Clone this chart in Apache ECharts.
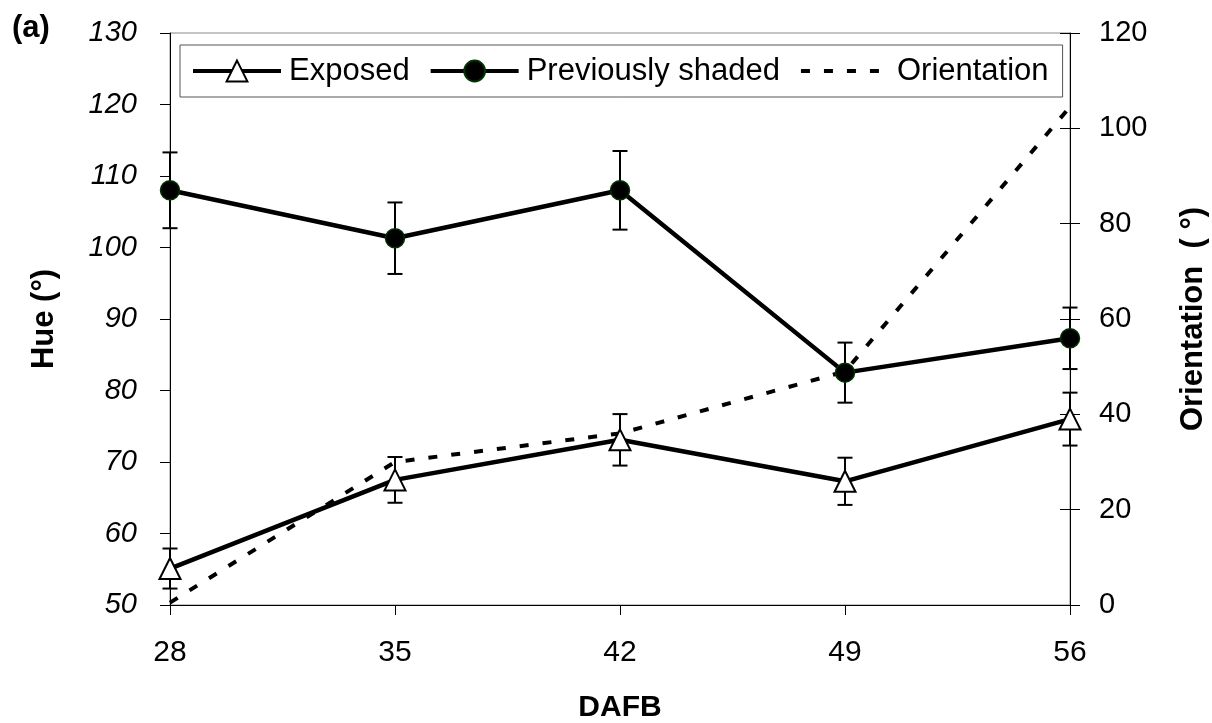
<!DOCTYPE html>
<html>
<head>
<meta charset="utf-8">
<script src="https://cdn.jsdelivr.net/npm/echarts@6/dist/echarts.min.js"></script>
<style>
  html, body { margin: 0; padding: 0; background: #fff; }
  #chart { width: 1212px; height: 723px; }
</style>
</head>
<body>
<div id="chart"></div>
<script>
// ---- data ----
const days = [28, 35, 42, 49, 56];
const exposed = [55.1, 67.5, 73.1, 67.3, 76.0];
const exposedErr = [2.8, 3.2, 3.6, 3.3, 3.7];
const shaded = [108.0, 101.3, 108.0, 82.5, 87.3];
const shadedErr = [5.3, 5.0, 5.5, 4.2, 4.3];
const orientation = [0.5, 30, 36, 49, 104.5];
const hueTicks = { min: 50, max: 130, interval: 10 };
const oriTicks = { min: 0, max: 120, interval: 20 };
const xTicks = { min: 28, max: 56, interval: 7 };

const FONT = '"Liberation Sans", Arial, sans-serif';

function pairs(xs, ys) { return xs.map((x, i) => [x, ys[i]]); }
function errData(xs, ys, es) { return xs.map((x, i) => [x, ys[i] - es[i], ys[i] + es[i]]); }

function errRender(params, api) {
  const x = api.value(0);
  const lo = api.coord([x, api.value(1)]);
  const hi = api.coord([x, api.value(2)]);
  const hw = 7.5;
  const st = { stroke: '#000', lineWidth: 2 };
  return {
    type: 'group',
    children: [
      { type: 'line', shape: { x1: lo[0], y1: lo[1], x2: hi[0], y2: hi[1] }, style: st },
      { type: 'line', shape: { x1: lo[0] - hw, y1: lo[1], x2: lo[0] + hw, y2: lo[1] }, style: st },
      { type: 'line', shape: { x1: hi[0] - hw, y1: hi[1], x2: hi[0] + hw, y2: hi[1] }, style: st }
    ]
  };
}

const chart = echarts.init(document.getElementById('chart'), null, { renderer: 'canvas' });

const option = {
  backgroundColor: '#fff',
  animation: false,
  textStyle: { fontFamily: FONT, color: '#000' },
  graphic: [
    { type: 'text', left: 12, top: 13, style: { text: '(a)', font: 'bold 31px ' + FONT, fill: '#000' } }
  ],
  grid: {
    left: 170, right: 142, top: 33, bottom: 118,
    outerBoundsMode: 'none', containLabel: false,
    show: true, borderColor: '#888', borderWidth: 1, backgroundColor: 'transparent'
  },
  legend: {
    left: 180, top: 45,
    padding: [10, 14, 10, 11],
    borderColor: '#555', borderWidth: 1,
    itemWidth: 88, itemHeight: 26, itemGap: 19,
    textStyle: { fontSize: 31, fontFamily: FONT, color: '#000', padding: [0, 0, 0, 3], lineHeight: 32 },
    data: [
      { name: 'Exposed', lineStyle: { width: 4, color: '#000' } },
      { name: 'Previously shaded', lineStyle: { width: 4, color: '#000' } },
      { name: 'Orientation', lineStyle: { width: 4, color: '#000', type: [9, 14] },
        itemStyle: { color: 'rgba(0,0,0,0)', borderColor: 'rgba(0,0,0,0)', borderWidth: 0, opacity: 0 } }
    ]
  },
  xAxis: {
    type: 'value', min: xTicks.min, max: xTicks.max, interval: xTicks.interval,
    name: 'DAFB', nameLocation: 'middle', nameGap: 88,
    nameTextStyle: { fontSize: 30, fontWeight: 'bold', fontFamily: FONT, color: '#000' },
    axisLine: { show: true, onZero: false, lineStyle: { color: '#000', width: 1 } },
    axisTick: { show: true, inside: false, length: 10, lineStyle: { color: '#000', width: 1 } },
    axisLabel: { fontSize: 30, color: '#000', margin: 33, fontFamily: FONT },
    splitLine: { show: false }
  },
  yAxis: [
    {
      type: 'value', position: 'left', min: hueTicks.min, max: hueTicks.max, interval: hueTicks.interval,
      name: 'Hue (°)', nameLocation: 'middle', nameGap: 110, nameRotate: 90,
      nameTextStyle: { fontSize: 31, fontWeight: 'bold', fontFamily: FONT, color: '#000' },
      axisLine: { show: true, onZero: false, lineStyle: { color: '#000', width: 1 } },
      axisTick: { show: true, inside: false, length: 10, lineStyle: { color: '#000', width: 1 } },
      axisLabel: { fontSize: 29, fontStyle: 'italic', color: '#000', margin: 33, fontFamily: FONT },
      splitLine: { show: false }
    },
    {
      type: 'value', position: 'right', min: oriTicks.min, max: oriTicks.max, interval: oriTicks.interval,
      name: 'Orientation  ( °)', nameLocation: 'middle', nameGap: 108, nameRotate: 90,
      nameTextStyle: { fontSize: 31, fontWeight: 'bold', fontFamily: FONT, color: '#000' },
      axisLine: { show: true, onZero: false, lineStyle: { color: '#000', width: 1 } },
      axisTick: { show: true, inside: false, length: 10, lineStyle: { color: '#000', width: 1 } },
      axisLabel: { fontSize: 29, color: '#000', margin: 29, fontFamily: FONT },
      splitLine: { show: false }
    },
    {
      type: 'value', position: 'right', min: oriTicks.min, max: oriTicks.max, interval: oriTicks.interval,
      axisLine: { show: false },
      axisTick: { show: true, inside: true, length: 10, lineStyle: { color: '#000', width: 1 } },
      axisLabel: { show: false },
      splitLine: { show: false }
    }
  ],
  series: [
    {
      name: 'Orientation', type: 'line', yAxisIndex: 1, data: pairs(days, orientation),
      symbol: 'none', z: 2,
      lineStyle: { color: '#000', width: 4, type: [9, 14] },
      itemStyle: { color: '#000' }
    },
    {
      name: 'ExposedErr', type: 'custom', yAxisIndex: 0, data: errData(days, exposed, exposedErr),
      renderItem: errRender, z: 3, silent: true
    },
    {
      name: 'ShadedErr', type: 'custom', yAxisIndex: 0, data: errData(days, shaded, shadedErr),
      renderItem: errRender, z: 3, silent: true
    },
    {
      name: 'Exposed', type: 'line', yAxisIndex: 0, data: pairs(days, exposed),
      symbol: 'triangle', symbolSize: 21, showAllSymbol: true, z: 5,
      lineStyle: { color: '#000', width: 4.5 },
      itemStyle: { color: '#fff', borderColor: '#000', borderWidth: 2 }
    },
    {
      name: 'Previously shaded', type: 'line', yAxisIndex: 0, data: pairs(days, shaded),
      symbol: 'circle', symbolSize: 19, showAllSymbol: true, z: 5,
      lineStyle: { color: '#000', width: 4.5 },
      itemStyle: { color: '#000', borderColor: '#003300', borderWidth: 1.5 }
    }
  ]
};

chart.setOption(option);
</script>
</body>
</html>
